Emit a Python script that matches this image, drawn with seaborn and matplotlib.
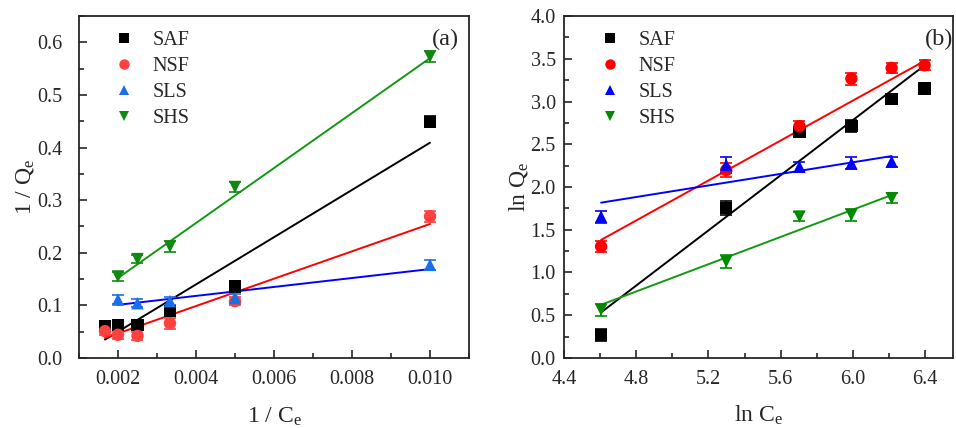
import numpy as np
import pandas as pd
import matplotlib
matplotlib.use("Agg")
import matplotlib.pyplot as plt
import seaborn as sns
from matplotlib.ticker import MultipleLocator, FormatStrFormatter

sns.set_style("ticks")
plt.rcParams['font.family'] = ['Liberation Serif', 'DejaVu Serif']
plt.rcParams['mathtext.fontset'] = 'custom'
plt.rcParams['mathtext.rm'] = 'Liberation Serif'
plt.rcParams['mathtext.it'] = 'Liberation Serif:italic'
plt.rcParams['font.size'] = 14.5

series = ["SAF", "NSF", "SLS", "SHS"]
ce = [100, 200, 300, 400, 500, 600]   # equilibrium concentrations
npts = [6, 6, 5, 5]                   # SLS and SHS have no point at Ce = 600

# (a) 1/Qe values
inv_q = {
    "SAF": [0.449, 0.136, 0.089, 0.063, 0.063, 0.060],
    "NSF": [0.269, 0.108, 0.066, 0.042, 0.044, 0.051],
    "SLS": [0.177, 0.114, 0.108, 0.104, 0.111],
    "SHS": [0.573, 0.325, 0.212, 0.188, 0.155],
}
inv_err = {
    "SAF": [0.010, 0.008, 0.008, 0.007, 0.007, 0.006],
    "NSF": [0.010, 0.008, 0.010, 0.008, 0.008, 0.008],
    "SLS": [0.010, 0.008, 0.008, 0.008, 0.008],
    "SHS": [0.010, 0.009, 0.010, 0.008, 0.008],
}
# (b) ln Qe values
ln_q = {
    "SAF": [0.272, 1.751, 2.646, 2.716, 3.027, 3.152],
    "NSF": [1.304, 2.198, 2.712, 3.268, 3.393, 3.424],
    "SLS": [1.654, 2.257, 2.237, 2.276, 2.296],
    "SHS": [0.564, 1.128, 1.654, 1.673, 1.868],
}
ln_err = {
    "SAF": [0.07, 0.08, 0.06, 0.07, 0.06, 0.06],
    "NSF": [0.07, 0.08, 0.06, 0.07, 0.06, 0.06],
    "SLS": [0.07, 0.09, 0.06, 0.07, 0.06],
    "SHS": [0.07, 0.08, 0.05, 0.07, 0.06],
}

# linear fits (slope, intercept) as drawn in the figure
fit_a = {"SAF": (44.9, -0.0398), "NSF": (26.0, -0.0053),
         "SLS": (8.5, 0.084), "SHS": (52.25, 0.0475)}
fit_b = {"SAF": (1.613, -6.895), "NSF": (1.1685, -4.000),
         "SLS": (0.3385, 0.258), "SHS": (0.7975, -3.050)}

markers = {"SAF": "s", "NSF": "o", "SLS": "^", "SHS": "v"}
colors_a = {"SAF": "black", "NSF": "#ff4040", "SLS": "#1a6fe8", "SHS": "#118811"}
line_a = {"SAF": "black", "NSF": "red", "SLS": "blue", "SHS": "#119911"}
colors_b = {"SAF": "black", "NSF": "red", "SLS": "blue", "SHS": "#008a00"}
line_b = {"SAF": "black", "NSF": "red", "SLS": "blue", "SHS": "#119911"}

rows = []
for s, n in zip(series, npts):
    for i in range(n):
        rows.append({"series": s, "ce": ce[i], "inv_c": 1.0 / ce[i], "ln_c": np.log(ce[i]),
                     "inv_q": inv_q[s][i], "inv_err": inv_err[s][i],
                     "ln_q": ln_q[s][i], "ln_err": ln_err[s][i]})
df = pd.DataFrame(rows)

fig = plt.figure(figsize=(9.56, 4.28), dpi=100)
ax1 = fig.add_axes([0.0826, 0.1636, 0.408, 0.799])
ax2 = fig.add_axes([0.590, 0.1636, 0.407, 0.799])


def draw(ax, xcol, ycol, ecol, fits, mcolors, lcolors, legx):
    for s in series:
        d = df[df.series == s]
        xs = np.array([d[xcol].min(), d[xcol].max()])
        k, b = fits[s]
        sns.lineplot(x=xs, y=k * xs + b, ax=ax, color=lcolors[s], lw=1.4, legend=False)
        ax.errorbar(d[xcol], d[ycol], yerr=d[ecol], fmt="none", ecolor=mcolors[s],
                    elinewidth=1.2, capsize=4, capthick=1.2, zorder=3)
    sns.scatterplot(data=df, x=xcol, y=ycol, hue="series", style="series",
                    palette=mcolors, markers=markers, hue_order=series,
                    style_order=series, s=80, edgecolor="none", ax=ax, zorder=4)
    leg = ax.legend(loc="upper left", frameon=False, bbox_to_anchor=(legx, 1.01),
                    handlelength=1.0, handletextpad=0.9, labelspacing=0.35,
                    fontsize=14.5)
    for h in leg.legend_handles:
        if hasattr(h, "set_markersize"):
            h.set_markersize(7.5)
            h.set_markeredgewidth(0)
    for sp in ax.spines.values():
        sp.set_linewidth(1.3)
    ax.tick_params(direction="in", which="both", width=1.2)
    ax.tick_params(which="major", length=6, labelsize=14.5)
    ax.tick_params(which="minor", length=3.5)
    ax.tick_params(axis="x", which="major", pad=9)


draw(ax1, "inv_c", "inv_q", "inv_err", fit_a, colors_a, line_a, 0.044)
ax1.set_xlim(0.001, 0.011)
ax1.set_ylim(0, 0.65)
ax1.xaxis.set_major_locator(MultipleLocator(0.002))
ax1.xaxis.set_minor_locator(MultipleLocator(0.001))
ax1.yaxis.set_major_locator(MultipleLocator(0.1))
ax1.yaxis.set_minor_locator(MultipleLocator(0.05))
ax1.xaxis.set_major_formatter(FormatStrFormatter("%.3f"))
ax1.yaxis.set_major_formatter(FormatStrFormatter("%.1f"))
ax1.tick_params(axis="y", which="major", pad=12)
ax1.set_xlabel(r"1 / C$_\mathrm{e}$", fontsize=17, labelpad=12)
ax1.set_ylabel(r"1 / Q$_\mathrm{e}$", fontsize=17, labelpad=1)
ax1.text(0.974, 0.93, "(a)", transform=ax1.transAxes, ha="right", va="center", fontsize=17.5)

draw(ax2, "ln_c", "ln_q", "ln_err", fit_b, colors_b, line_b, 0.046)
ax2.set_xlim(4.4, 6.555)
ax2.set_ylim(0, 4.0)
ax2.xaxis.set_major_locator(MultipleLocator(0.4))
ax2.xaxis.set_minor_locator(MultipleLocator(0.2))
ax2.yaxis.set_major_locator(MultipleLocator(0.5))
ax2.yaxis.set_minor_locator(MultipleLocator(0.25))
ax2.xaxis.set_major_formatter(FormatStrFormatter("%.1f"))
ax2.yaxis.set_major_formatter(FormatStrFormatter("%.1f"))
ax2.tick_params(axis="y", which="major", pad=6)
ax2.set_xlabel(r"ln C$_\mathrm{e}$", fontsize=17, labelpad=10)
ax2.set_ylabel(r"ln Q$_\mathrm{e}$", fontsize=17, labelpad=0)
ax2.text(1.0, 0.93, "(b)", transform=ax2.transAxes, ha="right", va="center", fontsize=17.5)

fig.savefig("out.png", dpi=100)
